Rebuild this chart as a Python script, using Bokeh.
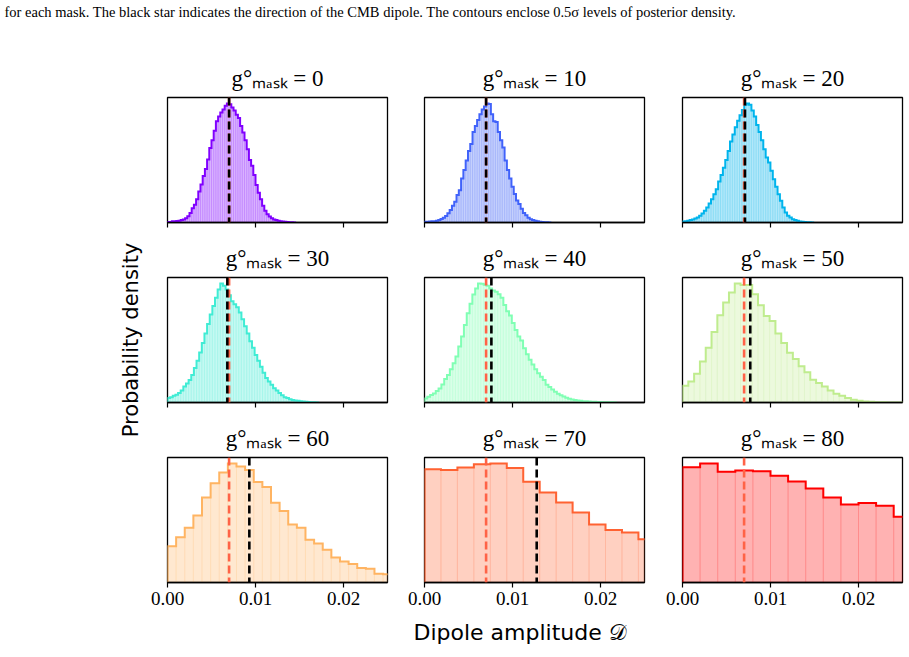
from bokeh.plotting import figure
from bokeh.layouts import gridplot, column, row
from bokeh.models import Range1d, Span, FixedTicker, Title, ColumnDataSource, NumeralTickFormatter
from bokeh.embed import file_html
from bokeh.resources import INLINE

# ---------------- data ----------------
masks = [0, 10, 20, 30, 40, 50, 60, 70, 80]
colors = ["#8000ff", "#4062fa", "#00b4ec", "#40ecd4", "#80ffb4",
          "#bfec8e", "#ffb462", "#ff6232", "#ff0000"]

bin_start = [0.0, 0.0, 0.0, 0.0, 0.0, 0.0, 0.0, 0.0, 0.0]
bin_width = [0.00025, 0.00026, 0.00027, 0.0003, 0.00032, 0.00066, 0.00098, 0.00187, 0.002]

heights_g0 = [0.5, 0.5, 1, 1, 1.2, 1.5, 2, 2.5, 3.6, 5.3, 8, 12, 15, 19.6, 26, 32, 39, 45,
              53, 62.5, 69, 77, 85, 89, 92.4, 95, 98, 100, 99.4, 96.6, 94, 90.5, 87.7, 81,
              75.6, 69, 61.6, 52.4, 47.6, 40, 31.6, 25, 19.6, 14, 9.8, 7, 5, 3.6, 2.5, 2,
              1.4, 1.1, 0.8, 0.6, 0.4, 0.3, 0.2, 0.1]
heights_g10 = [0.6, 0.6, 0.8, 1.1, 1.1, 1.5, 2.2, 3, 4, 5.5, 7.8, 10.5, 14, 17.5, 23, 27,
               37, 44, 52, 60, 66, 76, 81, 86, 91, 95, 97.5, 100, 99.5, 91, 85, 84.5, 76,
               69, 63, 52, 44, 37, 30, 24, 18.5, 15.5, 11.5, 8, 6, 4, 2.8, 2, 1.4, 1, 0.7,
               0.5, 0.3, 0.2, 0.1]
heights_g20 = [0.8, 1.1, 1.4, 2, 2.5, 3.4, 4.2, 5.6, 7.6, 9.8, 12.6, 16, 19.6, 23.8, 28,
               34.5, 40, 46, 52.4, 60, 68, 74, 80, 85.4, 90, 94.4, 99, 100, 99, 94, 89, 82,
               76, 69, 61.6, 54.6, 50.4, 43.4, 36.4, 30, 23.8, 18.2, 12.6, 8.4, 5.6, 4.2,
               2.8, 2, 1.4, 0.8, 0.6, 0.4, 0.3, 0.2, 0.1]
heights_g30 = [3.7, 4.5, 5.6, 6.5, 7.9, 10, 13.5, 16, 19, 23, 29, 35, 42, 50, 58, 66, 74,
               81, 88, 95, 100, 98, 95, 90, 85, 82.5, 80, 75.5, 70, 64, 58, 51.5, 46, 40,
               35, 30, 25, 20.5, 17.7, 15, 12, 10, 8, 6, 4.5, 3.7, 2.8, 2.2, 1.7, 1.4, 1.1,
               0.8, 0.6, 0.4, 0.3, 0.2, 0.1]
heights_g40 = [3.4, 4.8, 6.2, 7.6, 9.6, 11.8, 15.2, 19.7, 23, 28, 33, 38.6, 47, 55.5, 65,
               75, 83, 90.7, 95.8, 100, 99.7, 99, 98, 95.8, 94, 93, 91, 88, 82, 76.6, 73,
               66.8, 61, 55.5, 52, 45.6, 40.6, 36, 32, 28, 24.5, 21.7, 19, 15, 13, 11, 9,
               7.3, 6, 5, 4, 3.1, 2.5, 2.2, 1.7, 1.4, 1.1, 1, 0.8, 0.7, 0.55, 0.45, 0.35,
               0.3, 0.25, 0.2, 0.15, 0.1]
heights_g50 = [14.1, 17.7, 24.2, 34.4, 45.9, 59.2, 73.2, 83.9, 92.4, 100, 98.6, 98.6, 91,
               81.7, 72.7, 68.5, 58, 50, 41.7, 36.6, 30.4, 25.4, 19.2, 16.3, 13.5, 10.1,
               7.3, 5.6, 3.7, 2.3, 1.4, 0.85, 0.56, 0.3, 0.2, 0.1, 0.1, 0.05]
heights_g60 = [30.4, 38, 45.9, 56.3, 71.3, 83.4, 92.4, 100, 97.5, 94.4, 84.5, 80.3, 67, 60,
               48.7, 45.9, 36, 32.7, 27.6, 21.1, 17.7, 15.5, 12.1, 11.5, 7.3, 7.0]
heights_g70 = [95.2, 94.4, 96.6, 99.4, 100, 96.1, 84.6, 75.6, 67.2, 58.8, 48.7, 44, 42, 36.4]
heights_g80 = [96.9, 100, 93, 94.1, 93.5, 89.6, 84.8, 78.9, 71.3, 65.6, 66.8, 64.5, 55.2]

heights = [heights_g0, heights_g10, heights_g20, heights_g30, heights_g40,
           heights_g50, heights_g60, heights_g70, heights_g80]

median_D = [0.0070, 0.0070, 0.0071, 0.0068, 0.0076, 0.0077, 0.0093, 0.01275, None]
expected_D = 0.007

x_ticks = [0.0, 0.01, 0.02]
x_lim = (0.0, 0.025)

caption = ("for each mask. The black star indicates the direction of the CMB dipole. "
           "The contours enclose 0.5σ levels of posterior density.")
x_label = "Dipole amplitude 𝒟"
y_label = "Probability density"

# ---------------- layout styling ----------------
FRAME_W, FRAME_H = 220, 125
YLAB_W = 150
CAP_H = 51
left_b = [167 - YLAB_W, 20, 21]
right_b = [17, 17, 5]
top_b = 46
bottom_b = [9, 9, 75]
SERIF = "Liberation Serif"
SANS = "DejaVu Sans"


def blank_figure(width, height, **kw):
    f = figure(width=width, height=height, x_axis_location=None, y_axis_location=None,
               toolbar_location=None, output_backend="svg",
               background_fill_color="white", border_fill_color="white", **kw)
    f.outline_line_color = None
    f.grid.visible = False
    return f


def make_panel(k, r, c):
    col = colors[k]
    h = heights[k]
    w = bin_width[k]
    s = bin_start[k]
    lefts = [s + i * w for i in range(len(h))]
    rights = [s + (i + 1) * w for i in range(len(h))]
    ymax = max(h) * 1.05

    p = figure(width=left_b[c] + FRAME_W + right_b[c],
               height=top_b + FRAME_H + bottom_b[r],
               x_range=Range1d(*x_lim), y_range=Range1d(0, ymax),
               y_axis_location=None, toolbar_location=None, output_backend="svg",
               min_border_left=left_b[c], min_border_right=right_b[c],
               min_border_top=top_b, min_border_bottom=bottom_b[r],
               background_fill_color="white", border_fill_color="white")
    p.grid.visible = False
    p.outline_line_color = "black"
    p.outline_line_width = 1.3
    p.outline_line_alpha = 1.0

    src = ColumnDataSource(dict(left=lefts, right=rights, top=h))
    p.quad(left="left", right="right", bottom=0, top="top", source=src,
           fill_color=col, fill_alpha=0.3, line_color=col, line_alpha=0.18,
           line_width=0.7)

    xs, ys = [lefts[0]], [0.0]
    for lo, hi, v in zip(lefts, rights, h):
        xs += [lo, hi]
        ys += [v, v]
    xs.append(rights[-1])
    ys.append(0.0)
    p.line(xs, ys, line_color=col, line_width=2, line_join="miter")

    p.add_layout(Span(location=expected_D, dimension="height", line_color="tomato",
                      line_dash="8 4", line_width=2.6))
    if median_D[k] is not None:
        p.add_layout(Span(location=median_D[k], dimension="height", line_color="black",
                          line_dash="8 4", line_width=2.6))

    ax = p.xaxis[0]
    ax.axis_line_color = "black"
    ax.axis_line_width = 1.3
    if r == 2:
        ax.ticker = FixedTicker(ticks=x_ticks)
        ax.formatter = NumeralTickFormatter(format="0.00")
        ax.major_tick_out = 5
        ax.major_tick_in = 0
        ax.major_tick_line_color = "black"
        ax.major_tick_line_width = 1.2
        ax.minor_tick_line_color = None
        ax.major_label_text_font = SERIF
        ax.major_label_text_font_size = "19px"
        ax.major_label_text_color = "black"
        ax.major_label_standoff = 4
    else:
        # unlabeled ticks: drawn as minor ticks so no tick labels exist
        ax.ticker = FixedTicker(ticks=[], minor_ticks=x_ticks)
        ax.major_tick_line_color = None
        ax.minor_tick_out = 5
        ax.minor_tick_in = 0
        ax.minor_tick_line_color = "black"
        ax.minor_tick_line_width = 1.2

    p.title.text = f"g°ₘₐₛₖ = {masks[k]}"
    p.title.align = "center"
    p.title.text_font = SERIF
    p.title.text_font_size = "23px"
    p.title.text_font_style = "normal"
    p.title.text_color = "black"
    p.title.standoff = 14

    if r == 2 and c == 1:
        p.add_layout(Title(text=x_label, align="left", offset=-11, text_font=SANS,
                           text_font_size="22px", text_font_style="normal",
                           text_color="black", standoff=20), "below")
    return p


rows = []
for r in range(3):
    rows.append([make_panel(3 * r + c, r, c) for c in range(3)])
grid = gridplot(rows, toolbar_location=None)
grid_h = sum(top_b + FRAME_H + b for b in bottom_b)

# caption strip (top)
cap_fig = blank_figure(909, CAP_H, min_border_left=0, min_border_right=0,
                       min_border_top=0, min_border_bottom=0)
cap_fig.title.text = caption
cap_fig.title.align = "left"
cap_fig.title.offset = 4
cap_fig.title.standoff = 2
cap_fig.title.text_font = SERIF
cap_fig.title.text_font_size = "14.5px"
cap_fig.title.text_font_style = "normal"
cap_fig.title.text_color = "black"

# y label strip (left)
row2_center = top_b + FRAME_H + bottom_b[0] + top_b + FRAME_H / 2
ylab_fig = blank_figure(YLAB_W, grid_h, min_border_left=142, min_border_right=0,
                        min_border_top=0, min_border_bottom=int(grid_h - 2 * row2_center))
ylab_fig.add_layout(Title(text=y_label, align="center", text_font=SANS,
                          text_font_size="21px", text_font_style="normal",
                          text_color="black", standoff=0), "left")

layout = column(cap_fig, row(ylab_fig, grid))

with open("out.html", "w") as f:
    f.write(file_html(layout, INLINE))
